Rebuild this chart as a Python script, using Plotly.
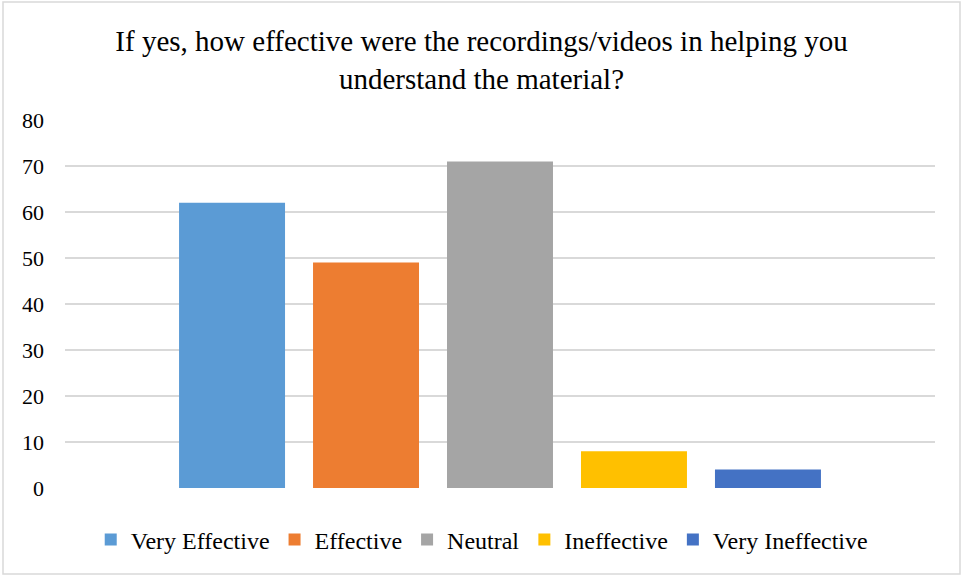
import plotly.graph_objects as go

categories = ["Very Effective", "Effective", "Neutral", "Ineffective", "Very Ineffective"]
values = [62, 49, 71, 8, 4]
colors = ["#5B9BD5", "#ED7D31", "#A5A5A5", "#FFC000", "#4472C4"]
y_ticks = [0, 10, 20, 30, 40, 50, 60, 70, 80]

W, H = 963, 577
L, R, T, B = 65, 28, 120, 89
pw, ph = W - L - R, H - T - B
FONT = "Liberation Serif, Times New Roman, serif"

fig = go.Figure()
for name, v, c in zip(categories, values, colors):
    fig.add_trace(go.Bar(x=["Q"], y=[v], name=name, marker=dict(color=c, line=dict(width=0))))

def px_to_paper(x, y):
    return (x - L) / pw, (H - B - y) / ph

x0, y0 = px_to_paper(3, 574)
x1, y1 = px_to_paper(960, 2)

fig.update_layout(
    width=W, height=H,
    margin=dict(l=L, r=R, t=T, b=B, autoexpand=False),
    paper_bgcolor="white", plot_bgcolor="white",
    font=dict(family=FONT, color="#000000"),
    title=dict(
        text="If yes, how effective were the recordings/videos in helping you<br>understand the material?",
        x=0.5, xanchor="center", y=1 - 51 / H, yanchor="middle",
        font=dict(size=29, family=FONT, color="#000000"),
    ),
    barmode="group", bargap=0.23, bargroupgap=0.209,
    xaxis=dict(showticklabels=False, showgrid=False, zeroline=False, showline=False, ticks=""),
    yaxis=dict(
        range=[0, 80], tickvals=y_ticks, showgrid=True, gridcolor="#D9D9D9", gridwidth=1.5,
        zeroline=False, showline=False, ticks="", tickfont=dict(size=22, family=FONT, color="#000000"),
        ticklabelstandoff=20,
    ),
    legend=dict(
        orientation="h", x=0.479, xanchor="center", y=px_to_paper(0, 540)[1], yanchor="middle",
        font=dict(size=24, family=FONT, color="#000000"), itemwidth=30, traceorder="normal",
    ),
    showlegend=True,
    shapes=[dict(type="rect", xref="paper", yref="paper", x0=x0, y0=y0, x1=x1, y1=y1,
                 line=dict(color="#D9D9D9", width=1.5), layer="below")],
)

fig.write_html("out.html", config={"displayModeBar": False},
               post_script="document.body.style.margin='0';")
